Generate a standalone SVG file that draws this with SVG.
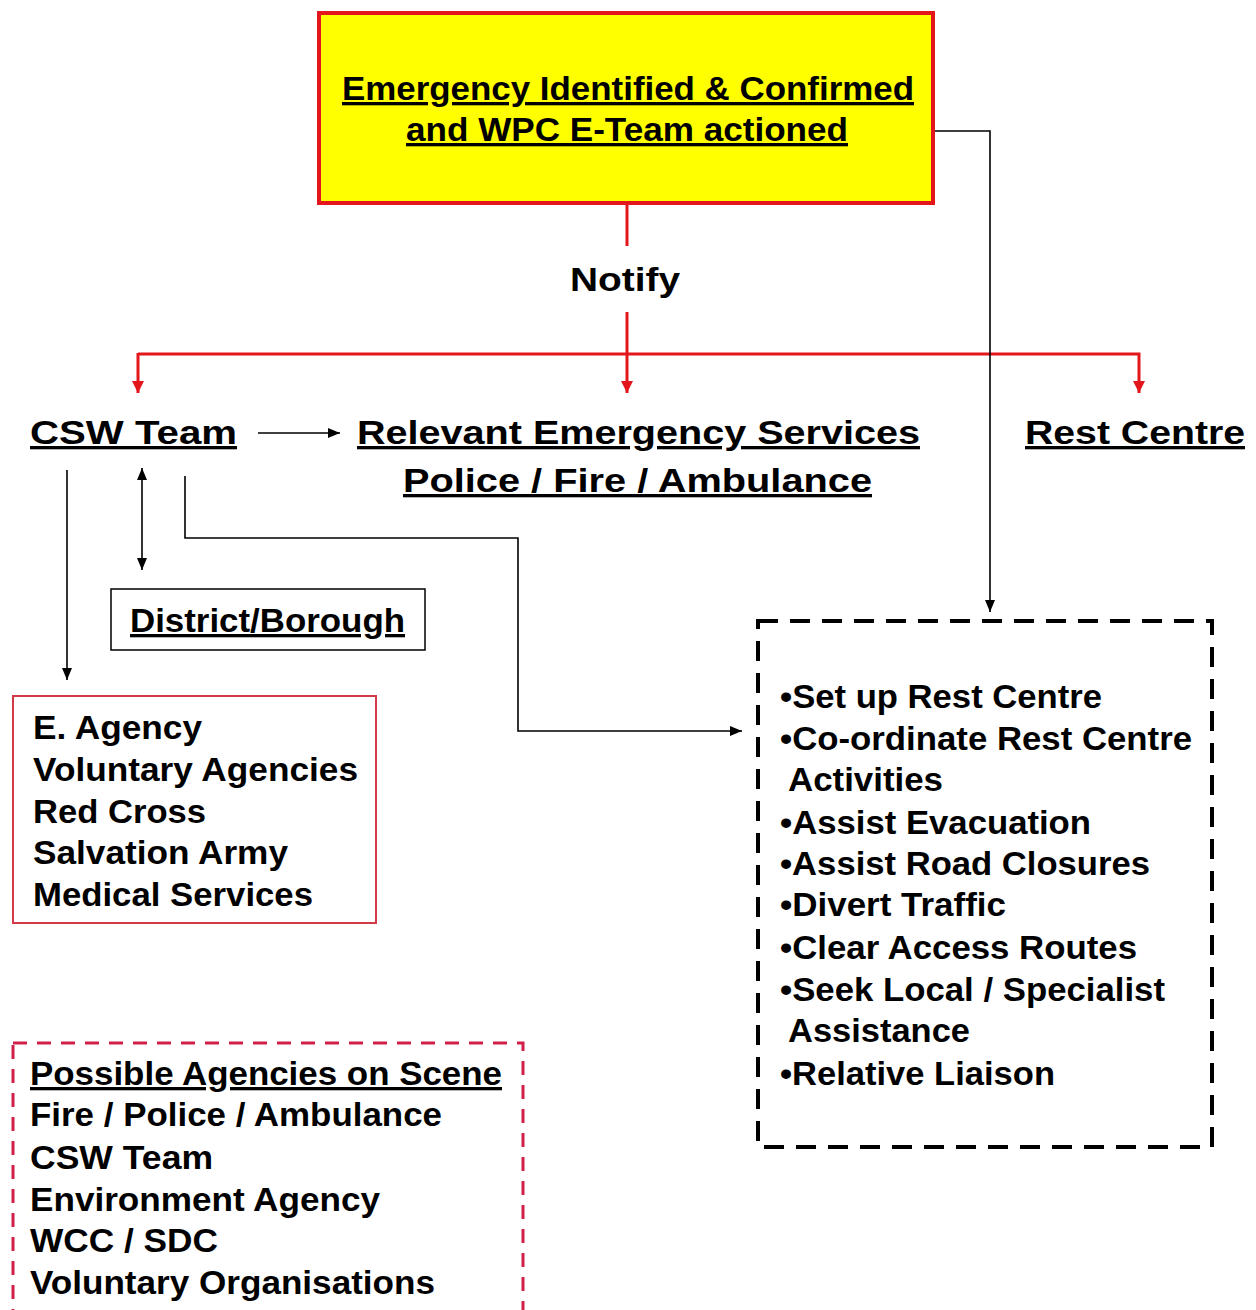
<svg xmlns="http://www.w3.org/2000/svg" width="1256" height="1310" viewBox="0 0 1256 1310">
<style>
text{font-family:"Liberation Sans",Arial,sans-serif;font-weight:bold;fill:#000;font-size:33px}
.u{text-decoration:underline}
.red{stroke:#e3161b;stroke-width:3;fill:none}
.blk{stroke:#000;stroke-width:1.6;fill:none}
</style>
<defs>
<marker id="ar" markerWidth="12" markerHeight="14" refX="12" refY="7" orient="auto" markerUnits="userSpaceOnUse"><path d="M0,1 L12,7 L0,13 Z" fill="#e3161b"/></marker>
<marker id="ab" markerWidth="12" markerHeight="12" refX="12" refY="6" orient="auto" markerUnits="userSpaceOnUse"><path d="M0,1 L12,6 L0,11 Z" fill="#000"/></marker>
<marker id="abs" markerWidth="12" markerHeight="12" refX="0" refY="6" orient="auto" markerUnits="userSpaceOnUse"><path d="M12,1 L0,6 L12,11 Z" fill="#000"/></marker>
</defs>
<rect width="1256" height="1310" fill="#fff"/>

<g id="connectors">
<line class="red" x1="627" y1="204" x2="627" y2="246"/>
<line class="red" x1="627" y1="312" x2="627" y2="393" marker-end="url(#ar)"/>
<path class="red" d="M138,354 L1139,354 L1139,393" marker-end="url(#ar)"/>
<line class="red" x1="138" y1="353" x2="138" y2="393" marker-end="url(#ar)"/>
<path class="blk" d="M934,131 L990,131 L990,612" marker-end="url(#ab)"/>
<line class="blk" x1="258" y1="433" x2="340" y2="433" marker-end="url(#ab)"/>
<line class="blk" x1="142" y1="468" x2="142" y2="570" marker-start="url(#abs)" marker-end="url(#ab)"/>
<line class="blk" x1="67" y1="470" x2="67" y2="680" marker-end="url(#ab)"/>
<path class="blk" d="M185,476 L185,538 L518,538 L518,731 L742,731" marker-end="url(#ab)"/>
</g>

<g id="top">
<rect x="319" y="13" width="614" height="190" fill="#ffff00" stroke="#e3161b" stroke-width="4"/>
<text class="u" x="342" y="100" textLength="572" lengthAdjust="spacingAndGlyphs" font-size="34">Emergency Identified &amp; Confirmed</text>
<text class="u" x="406" y="141" textLength="442" lengthAdjust="spacingAndGlyphs" font-size="34">and WPC E-Team actioned</text>
</g>

<g id="notify"><text x="570" y="291" textLength="110" lengthAdjust="spacingAndGlyphs" font-size="36">Notify</text></g>

<g id="csw"><text class="u" x="30" y="444" textLength="207" lengthAdjust="spacingAndGlyphs" font-size="35">CSW Team</text></g>

<g id="services">
<text class="u" x="357" y="444" textLength="563" lengthAdjust="spacingAndGlyphs" font-size="35">Relevant Emergency Services</text>
<text class="u" x="403" y="492" textLength="469" lengthAdjust="spacingAndGlyphs" font-size="35">Police / Fire / Ambulance</text>
</g>

<g id="rest"><text class="u" x="1025" y="444" textLength="220" lengthAdjust="spacingAndGlyphs" font-size="35">Rest Centre</text></g>

<g id="district">
<rect x="111" y="589" width="314" height="61" fill="none" stroke="#000" stroke-width="1.5"/>
<text class="u" x="130" y="632" textLength="275" lengthAdjust="spacingAndGlyphs">District/Borough</text>
</g>

<g id="agency">
<rect x="13" y="696" width="363" height="227" fill="none" stroke="#d23a4a" stroke-width="2"/>
<text x="33" y="739" textLength="169" lengthAdjust="spacingAndGlyphs">E. Agency</text>
<text x="33" y="781" textLength="325" lengthAdjust="spacingAndGlyphs">Voluntary Agencies</text>
<text x="33" y="823" textLength="173" lengthAdjust="spacingAndGlyphs">Red Cross</text>
<text x="33" y="864" textLength="255" lengthAdjust="spacingAndGlyphs">Salvation Army</text>
<text x="33" y="906" textLength="280" lengthAdjust="spacingAndGlyphs">Medical Services</text>
</g>

<g id="tasks">
<rect x="758" y="621" width="454" height="526" fill="none" stroke="#000" stroke-width="4" stroke-dasharray="20,12"/>
<text x="780" y="708" textLength="322" lengthAdjust="spacingAndGlyphs">•Set up Rest Centre</text>
<text x="780" y="750" textLength="412" lengthAdjust="spacingAndGlyphs">•Co-ordinate Rest Centre</text>
<text x="788" y="791" textLength="155" lengthAdjust="spacingAndGlyphs">Activities</text>
<text x="780" y="834" textLength="311" lengthAdjust="spacingAndGlyphs">•Assist Evacuation</text>
<text x="780" y="875" textLength="370" lengthAdjust="spacingAndGlyphs">•Assist Road Closures</text>
<text x="780" y="916" textLength="226" lengthAdjust="spacingAndGlyphs">•Divert Traffic</text>
<text x="780" y="959" textLength="357" lengthAdjust="spacingAndGlyphs">•Clear Access Routes</text>
<text x="780" y="1001" textLength="385" lengthAdjust="spacingAndGlyphs">•Seek Local / Specialist</text>
<text x="788" y="1042" textLength="182" lengthAdjust="spacingAndGlyphs">Assistance</text>
<text x="780" y="1085" textLength="275" lengthAdjust="spacingAndGlyphs">•Relative Liaison</text>
</g>

<g id="possible">
<rect x="13" y="1043" width="510" height="290" fill="none" stroke="#d0204a" stroke-width="3" stroke-dasharray="14,10"/>
<text class="u" x="30" y="1085" textLength="472" lengthAdjust="spacingAndGlyphs">Possible Agencies on Scene</text>
<text x="30" y="1126" textLength="412" lengthAdjust="spacingAndGlyphs">Fire / Police / Ambulance</text>
<text x="30" y="1169" textLength="183" lengthAdjust="spacingAndGlyphs">CSW Team</text>
<text x="30" y="1211" textLength="350" lengthAdjust="spacingAndGlyphs">Environment Agency</text>
<text x="30" y="1252" textLength="188" lengthAdjust="spacingAndGlyphs">WCC / SDC</text>
<text x="30" y="1294" textLength="405" lengthAdjust="spacingAndGlyphs">Voluntary Organisations</text>
</g>
</svg>
